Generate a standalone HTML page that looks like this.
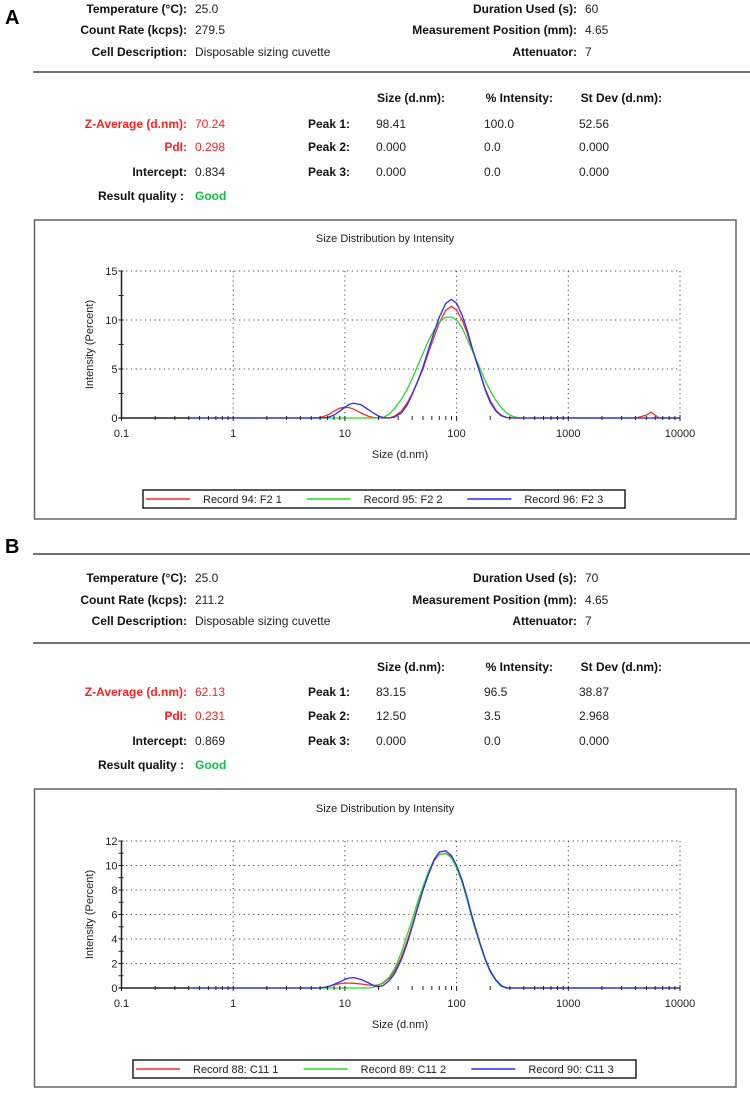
<!DOCTYPE html>
<html><head><meta charset="utf-8">
<style>
html,body{margin:0;padding:0;background:#fff;}
svg{display:block;font-family:"Liberation Sans",Arial,sans-serif;}
.lb{font-weight:bold;font-size:12px;fill:#111;text-anchor:end;}
.vl{font-size:12px;fill:#222;}
.red{fill:#ff2020;}
.grn{fill:#10c040;}
</style></head>
<body>
<svg id="page" width="750" height="1093" viewBox="0 0 750 1093">
<g id="secA">
<text x="5" y="24" font-size="20" font-weight="bold">A</text>
<text class="lb" x="187" y="13">Temperature (°C):</text>
<text class="vl" x="195" y="13">25.0</text>
<text class="lb" x="187" y="34">Count Rate (kcps):</text>
<text class="vl" x="195" y="34">279.5</text>
<text class="lb" x="187" y="56">Cell Description:</text>
<text class="vl" x="195" y="56">Disposable sizing cuvette</text>
<text class="lb" x="577" y="13">Duration Used (s):</text>
<text class="vl" x="585" y="13">60</text>
<text class="lb" x="577" y="34">Measurement Position (mm):</text>
<text class="vl" x="585" y="34">4.65</text>
<text class="lb" x="577" y="56">Attenuator:</text>
<text class="vl" x="585" y="56">7</text>
<line x1="33" y1="72" x2="750" y2="72" stroke="#444" stroke-width="1.5"/>
<text class="lb" x="445" y="102">Size (d.nm):</text>
<text class="lb" x="553" y="102">% Intensity:</text>
<text class="lb" x="662" y="102">St Dev (d.nm):</text>
<text class="lb red" x="187" y="128">Z-Average (d.nm):</text>
<text class="vl red" x="195" y="128">70.24</text>
<text class="lb red" x="187" y="151">PdI:</text>
<text class="vl red" x="195" y="151">0.298</text>
<text class="lb" x="187" y="176">Intercept:</text>
<text class="vl" x="195" y="176">0.834</text>
<text class="lb" x="184" y="200" font-size="13">Result quality :</text>
<text class="vl grn" x="195" y="200" font-size="13" font-weight="bold">Good</text>
<text class="lb" x="350" y="128">Peak 1:</text>
<text class="lb" x="350" y="151">Peak 2:</text>
<text class="lb" x="350" y="176">Peak 3:</text>
<text class="vl" x="376" y="128">98.41</text>
<text class="vl" x="484" y="128">100.0</text>
<text class="vl" x="579" y="128">52.56</text>
<text class="vl" x="376" y="151">0.000</text>
<text class="vl" x="484" y="151">0.0</text>
<text class="vl" x="579" y="151">0.000</text>
<text class="vl" x="376" y="176">0.000</text>
<text class="vl" x="484" y="176">0.0</text>
<text class="vl" x="579" y="176">0.000</text>
</g>
<g id="secB">
<text x="5" y="553" font-size="20" font-weight="bold">B</text>
<line x1="33" y1="554" x2="750" y2="554" stroke="#444" stroke-width="1.5"/>
<text class="lb" x="187" y="582">Temperature (°C):</text>
<text class="vl" x="195" y="582">25.0</text>
<text class="lb" x="187" y="604">Count Rate (kcps):</text>
<text class="vl" x="195" y="604">211.2</text>
<text class="lb" x="187" y="625">Cell Description:</text>
<text class="vl" x="195" y="625">Disposable sizing cuvette</text>
<text class="lb" x="577" y="582">Duration Used (s):</text>
<text class="vl" x="585" y="582">70</text>
<text class="lb" x="577" y="604">Measurement Position (mm):</text>
<text class="vl" x="585" y="604">4.65</text>
<text class="lb" x="577" y="625">Attenuator:</text>
<text class="vl" x="585" y="625">7</text>
<line x1="33" y1="643" x2="750" y2="643" stroke="#444" stroke-width="1.5"/>
<text class="lb" x="445" y="671">Size (d.nm):</text>
<text class="lb" x="553" y="671">% Intensity:</text>
<text class="lb" x="662" y="671">St Dev (d.nm):</text>
<text class="lb red" x="187" y="696">Z-Average (d.nm):</text>
<text class="vl red" x="195" y="696">62.13</text>
<text class="lb red" x="187" y="720">PdI:</text>
<text class="vl red" x="195" y="720">0.231</text>
<text class="lb" x="187" y="745">Intercept:</text>
<text class="vl" x="195" y="745">0.869</text>
<text class="lb" x="184" y="769" font-size="13">Result quality :</text>
<text class="vl grn" x="195" y="769" font-size="13" font-weight="bold">Good</text>
<text class="lb" x="350" y="696">Peak 1:</text>
<text class="lb" x="350" y="720">Peak 2:</text>
<text class="lb" x="350" y="745">Peak 3:</text>
<text class="vl" x="376" y="696">83.15</text>
<text class="vl" x="484" y="696">96.5</text>
<text class="vl" x="579" y="696">38.87</text>
<text class="vl" x="376" y="720">12.50</text>
<text class="vl" x="484" y="720">3.5</text>
<text class="vl" x="579" y="720">2.968</text>
<text class="vl" x="376" y="745">0.000</text>
<text class="vl" x="484" y="745">0.0</text>
<text class="vl" x="579" y="745">0.000</text>
</g>
<g id="chartA"></g>
<g id="chartB"></g>
</svg>
<script>
// Shared size grid (d.nm)
const sizes = [0.4,4,5,6,7,8,9,10,11,12,14,16,18,20,22,25,28,32,36,40,45,50,56,63,70,80,90,100,112,125,140,160,180,200,225,250,280,320,360,400,4000,4500,5000,5500,6000,6500,7000,10000];
const xTicks = [0.1,1,10,100,1000,10000];
const xTickLabels = ["0.1","1","10","100","1000","10000"];
// Chart A series (Intensity %)
const aRed   = [0,0,0,0.05,0.3,0.7,1.0,1.1,1.05,0.9,0.5,0.2,0.05,0,0,0,0.2,0.7,1.5,2.5,3.8,5.0,6.7,8.3,9.7,11.0,11.4,11.0,10.0,8.6,6.8,4.8,3.0,1.8,0.8,0.3,0.05,0,0,0,0,0.15,0.3,0.6,0.3,0,0,0];
const aGreen = [0,0,0,0,0,0,0,0,0,0,0,0,0,0,0.05,0.4,1.0,1.9,2.9,4.0,5.4,6.6,7.9,9.0,9.8,10.3,10.3,10.0,9.2,8.0,6.7,5.2,3.8,2.8,1.8,1.1,0.5,0.15,0.02,0,0,0,0,0,0,0,0,0];
const aBlue  = [0,0,0,0,0.05,0.3,0.7,1.1,1.4,1.5,1.35,0.9,0.5,0.2,0.05,0,0.1,0.5,1.3,2.4,3.8,5.2,7.0,8.8,10.3,11.7,12.1,11.7,10.5,8.9,6.9,4.8,2.9,1.6,0.7,0.25,0.05,0,0,0,0,0,0,0,0,0,0,0];
const aYTicks = [0,5,10,15];
const aLegend = ["Record 94: F2 1","Record 95: F2 2","Record 96: F2 3"];
// Chart B series
const bRed   = [0,0,0,0,0.1,0.25,0.35,0.4,0.4,0.38,0.33,0.25,0.2,0.25,0.4,0.8,1.4,2.5,3.8,5.1,6.7,8.0,9.3,10.4,10.9,11.0,10.7,9.9,8.7,7.2,5.6,3.8,2.4,1.4,0.65,0.2,0,0,0,0,0,0,0,0,0,0,0,0];
const bGreen = [0,0,0,0,0,0,0,0,0,0,0,0,0.05,0.2,0.45,0.9,1.6,2.9,4.3,5.6,7.1,8.3,9.5,10.5,10.9,11.0,10.6,9.8,8.6,7.1,5.4,3.7,2.3,1.3,0.6,0.15,0,0,0,0,0,0,0,0,0,0,0,0];
const bBlue  = [0,0,0,0,0.1,0.3,0.5,0.7,0.82,0.85,0.7,0.45,0.2,0.1,0.2,0.6,1.2,2.3,3.6,5.0,6.6,8.0,9.3,10.5,11.1,11.2,10.8,10.0,8.8,7.3,5.6,3.8,2.4,1.4,0.65,0.2,0,0,0,0,0,0,0,0,0,0,0,0];
const bYTicks = [0,2,4,6,8,10,12];
const bLegend = ["Record 88: C11 1","Record 89: C11 2","Record 90: C11 3"];
const colors = ["#ff2a2a","#22dd22","#2a2aff"];

const NS="http://www.w3.org/2000/svg";
function mk(parent,tag,attrs,text){const e=document.createElementNS(NS,tag);for(const k in attrs)e.setAttribute(k,attrs[k]);if(text!==undefined)e.textContent=text;parent.appendChild(e);return e;}

function drawChart(g,cfg){
  const L=121.5,R=680,T=cfg.top,B=cfg.bottom;
  const ymax=cfg.yTicks[cfg.yTicks.length-1];
  const xs=v=>L+(Math.log10(v)+1)/5*(R-L);
  const ys=v=>B-v/ymax*(B-T);
  const box=mk(g,'rect',{x:34.5,y:cfg.boxTop,width:701.5,height:cfg.boxBottom-cfg.boxTop,fill:'#fff',stroke:'#666','stroke-width':1.5});
  
  
  const title=mk(g,'text',{x:385,y:cfg.titleY,'text-anchor':'middle','font-size':11,fill:'#222'},'Size Distribution by Intensity');
  
  
  cfg.yTicks.forEach((t,i)=>{
    if(t===0)return;
    const ln=mk(g,'line',{x1:L,x2:R,y1:ys(t),y2:ys(t),stroke:'#444','stroke-width':1,'stroke-dasharray':'1.2 3.5'});
    
    
  });
  xTicks.forEach((t,i)=>{
    if(i===0)return;
    const ln=mk(g,'line',{x1:xs(t),x2:xs(t),y1:T,y2:B,stroke:'#444','stroke-width':1,'stroke-dasharray':'1.2 3.5'});
    
    
  });
  cfg.series.forEach((s,k)=>{
    let d='';
    sizes.forEach((sz,i)=>{d+=(i?'L':'M')+xs(sz).toFixed(1)+' '+ys(s[i]).toFixed(1);});
    const p=mk(g,'path',{d:d,fill:'none',stroke:colors[k],'stroke-width':1.3,'stroke-linejoin':'round'});
    
    
  });
  const ya=mk(g,'line',{x1:L,x2:L,y1:T,y2:B,stroke:'#222','stroke-width':1.5});
  
  
  const xa=mk(g,'path',{d:`M${L} ${B}H${xs(0.4)}`,stroke:'#222','stroke-width':1.5,fill:'none'});
  
  
  mk(g,'line',{x1:L-3,x2:L,y1:B,y2:B,stroke:'#222','stroke-width':1.5});
  const step=cfg.yTicks[1]-cfg.yTicks[0];
  for(let v=0;v<=ymax+1e-9;v+=step/2){
    mk(g,'line',{x1:L-3,x2:L+2,y1:ys(v),y2:ys(v),stroke:'#222','stroke-width':1});
  }
  cfg.yTicks.forEach(t=>{
    const tx=mk(g,'text',{x:L-4,y:ys(t)+4,'text-anchor':'end','font-size':11,fill:'#222'},String(t));
    
    
  });
  for(let dcd=-1;dcd<4;dcd++){
    for(let m=1;m<10;m++){
      const v=m*Math.pow(10,dcd);
      mk(g,'line',{x1:xs(v),x2:xs(v),y1:B-2,y2:B+(m===1?3:2),stroke:'#222','stroke-width':1});
    }
  }
  mk(g,'line',{x1:R,x2:R,y1:B-3,y2:B+3,stroke:'#222','stroke-width':1});
  xTicks.forEach((t,i)=>{
    const tx=mk(g,'text',{x:xs(t),y:cfg.tickY,'text-anchor':'middle','font-size':11,fill:'#222'},xTickLabels[i]);
    
    
  });
  const xl=mk(g,'text',{x:400,y:cfg.xLabelY,'text-anchor':'middle','font-size':11,fill:'#222'},'Size (d.nm)');
  
  
  const ylt=mk(g,'text',{x:0,y:0,'text-anchor':'middle','font-size':11,fill:'#222',transform:`translate(93,${(T+B)/2}) rotate(-90)`},'Intensity (Percent)');
  
  
  const lg=mk(g,'g',{});
  
  
  const lx=cfg.legX, lw=cfg.legW, ly=cfg.legY;
  mk(lg,'rect',{x:lx,y:ly,width:lw,height:18,fill:'#fff',stroke:'#222','stroke-width':1.5});
  const seg=lw/3;
  cfg.legend.forEach((name,k)=>{
    const e=mk(lg,'g',{});
    
    
    const x0=lx+k*seg;
    mk(e,'line',{x1:x0+3,x2:x0+47,y1:ly+9,y2:ly+9,stroke:colors[k],'stroke-width':1.5});
    mk(e,'text',{x:x0+60,y:ly+13,'font-size':11,fill:'#222'},name);
  });
}
const gA=document.getElementById('chartA');


drawChart(gA,{top:271,bottom:418,boxTop:220,boxBottom:519,titleY:242,tickY:437,xLabelY:458,yTicks:aYTicks,series:[aRed,aGreen,aBlue],legend:aLegend,legX:143,legW:482,legY:490});
const gB=document.getElementById('chartB');


drawChart(gB,{top:841,bottom:988,boxTop:789,boxBottom:1087,titleY:812,tickY:1007,xLabelY:1028,yTicks:bYTicks,series:[bRed,bGreen,bBlue],legend:bLegend,legX:133,legW:503,legY:1060});
</script>
</body></html>
